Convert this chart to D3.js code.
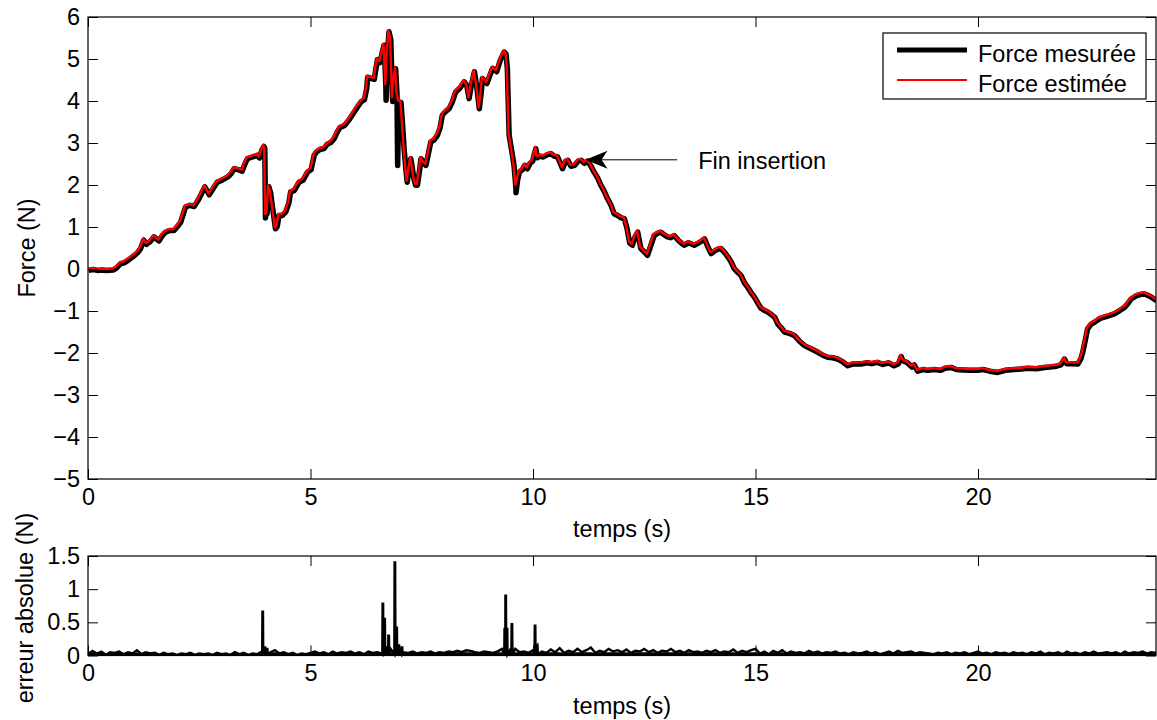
<!DOCTYPE html>
<html><head><meta charset="utf-8">
<script src="https://cdn.jsdelivr.net/npm/d3@7"></script>
<style>
body{margin:0;background:#fff}
text{font-family:"Liberation Sans",Arial,Helvetica,sans-serif;fill:#000}
</style>
</head><body><svg id="c" width="1157" height="720"></svg>
<script>
// ---------- data ----------
const tickX = [0, 5, 10, 15, 20];
const tickYForce = [-5, -4, -3, -2, -1, 0, 1, 2, 3, 4, 5, 6];
const tickYErr = [0, 0.5, 1, 1.5];
const seriesNames = ["Force mesurée", "Force estimée"];
const xLabel = "temps (s)";
const yLabelForce = "Force (N)";
const yLabelErr = "erreur absolue (N)";
const annotationText = "Fin insertion";
const annotationTip = [11.18, 2.6];
const annotationTail = [13.24, 2.6];

const forceTime = [
 0.00,0.10,0.20,0.30,0.40,0.55,0.62,0.72,0.80,0.90,1.00,1.10,1.17,1.24,1.30,1.38,1.47,1.58,1.65,1.73,1.82,1.92,
 2.00,2.07,2.13,2.18,2.28,2.37,2.45,2.52,2.61,2.66,2.71,2.80,2.89,3.00,3.12,3.20,3.27,3.36,3.45,3.52,3.57,3.68,
 3.79,3.84,3.90,3.94,3.96,3.98,4.01,4.05,4.09,4.12,4.16,4.20,4.24,4.28,4.35,4.43,4.50,4.54,4.62,4.73,4.82,4.92,
 5.00,5.07,5.12,5.20,5.29,5.36,5.45,5.52,5.59,5.65,5.75,5.85,5.97,6.05,6.12,6.20,6.25,6.27,6.33,6.42,6.49,6.55,
 6.60,6.64,6.66,6.68,6.71,6.75,6.79,6.81,6.83,6.86,6.90,6.93,6.97,7.02,7.06,7.09,7.13,7.16,7.20,7.24,7.28,7.31,
 7.35,7.39,7.44,7.47,7.53,7.58,7.64,7.69,7.76,7.84,7.90,7.95,8.02,8.10,8.17,8.25,8.35,8.44,8.50,8.55,8.60,8.67,
 8.72,8.78,8.82,8.85,8.95,9.02,9.08,9.17,9.25,9.34,9.38,9.41,9.45,9.50,9.53,9.56,9.60,9.64,9.68,9.75,9.80,9.86,
 9.92,9.98,10.01,10.05,10.08,10.15,10.22,10.30,10.39,10.46,10.54,10.60,10.65,10.72,10.77,10.84,10.92,11.00,
 11.07,11.14,11.21,11.28,11.36,11.44,11.51,11.58,11.66,11.74,11.81,11.90,11.97,12.04,12.10,12.16,12.22,12.28,
 12.34,12.41,12.48,12.56,12.62,12.71,12.78,12.86,12.93,13.01,13.08,13.16,13.25,13.32,13.39,13.48,13.55,13.61,
 13.70,13.78,13.84,13.92,13.99,14.05,14.13,14.21,14.30,14.38,14.44,14.51,14.58,14.66,14.74,14.81,14.90,14.97,
 15.04,15.11,15.18,15.26,15.34,15.42,15.49,15.56,15.64,15.75,15.86,15.97,16.09,16.20,16.30,16.39,16.50,16.61,
 16.72,16.83,16.95,17.06,17.20,17.35,17.50,17.60,17.73,17.85,17.98,18.10,18.20,18.26,18.30,18.40,18.50,18.55,
 18.63,18.75,18.85,19.00,19.15,19.25,19.38,19.50,19.65,19.80,19.98,20.10,20.25,20.43,20.60,20.80,20.96,21.10,
 21.30,21.48,21.60,21.75,21.85,21.93,21.98,22.10,22.23,22.30,22.34,22.40,22.45,22.53,22.61,22.72,22.83,22.95,
 23.06,23.18,23.28,23.36,23.43,23.55,23.65,23.73,23.82,23.90,24.00];

const forceEstimated = [
 0.00,0.02,0.00,0.01,0.00,0.01,0.05,0.16,0.18,0.25,0.33,0.42,0.52,0.72,0.62,0.68,0.80,0.70,0.82,0.91,0.95,0.95,
 1.05,1.15,1.35,1.51,1.55,1.52,1.65,1.79,1.99,1.90,1.80,1.95,2.10,2.15,2.22,2.30,2.42,2.40,2.36,2.55,2.66,2.70,
 2.74,2.68,2.88,2.95,2.90,1.31,1.35,1.99,1.85,1.60,1.30,0.99,1.05,1.31,1.31,1.39,1.60,1.87,1.90,2.10,2.15,2.34,
 2.40,2.74,2.82,2.88,2.90,3.00,3.05,3.14,3.30,3.40,3.45,3.58,3.77,3.90,4.01,4.07,4.33,4.60,4.58,4.55,5.02,4.95,
 5.20,5.36,4.90,4.40,5.10,5.68,5.50,4.80,4.09,4.50,4.80,4.20,4.01,4.00,3.40,2.90,2.40,2.10,2.40,2.66,2.40,2.18,
 2.03,2.03,2.40,2.66,2.55,2.50,2.80,3.06,3.10,3.22,3.40,3.70,3.78,3.85,4.00,4.25,4.35,4.49,4.40,4.09,4.40,4.73,
 4.40,3.85,4.20,4.57,4.45,4.65,4.81,4.73,5.00,5.20,5.15,4.81,3.22,2.90,2.70,2.50,2.00,2.15,2.34,2.40,2.50,2.42,
 2.55,2.60,2.74,2.90,2.68,2.72,2.70,2.75,2.78,2.72,2.70,2.55,2.42,2.60,2.62,2.48,2.50,2.60,
 2.62,2.55,2.60,2.50,2.34,2.20,2.03,1.90,1.71,1.55,1.35,1.30,1.25,1.23,1.00,0.65,0.60,0.80,
 0.91,0.52,0.45,0.36,0.55,0.83,0.88,0.91,0.85,0.80,0.78,0.83,0.72,0.65,0.60,0.66,0.63,0.60,
 0.65,0.70,0.75,0.55,0.40,0.45,0.50,0.52,0.42,0.30,0.20,0.04,-0.04,-0.12,-0.30,-0.40,-0.55,-0.65,
 -0.78,-0.90,-0.95,-0.99,-1.05,-1.12,-1.28,-1.36,-1.47,-1.50,-1.55,-1.68,-1.79,-1.85,-1.90,-1.95,-2.02,-2.07,
 -2.08,-2.11,-2.18,-2.27,-2.22,-2.23,-2.20,-2.22,-2.19,-2.24,-2.20,-2.27,-2.22,-2.05,-2.15,-2.20,-2.30,-2.25,
 -2.40,-2.36,-2.38,-2.36,-2.38,-2.33,-2.31,-2.36,-2.37,-2.38,-2.38,-2.36,-2.40,-2.43,-2.38,-2.36,-2.35,-2.33,
 -2.34,-2.31,-2.30,-2.28,-2.25,-2.11,-2.22,-2.22,-2.23,-2.10,-1.95,-1.65,-1.39,-1.28,-1.23,-1.15,-1.11,-1.07,
 -1.03,-0.95,-0.88,-0.78,-0.68,-0.60,-0.57,-0.56,-0.60,-0.65,-0.72];

// points where the measured force departs from the estimate
const measuredExtraTime  = [3.975, 6.685, 6.835, 6.945, 9.605];
const measuredExtraForce = [1.25, 4.05, 4.02, 2.50, 1.85];

// absolute error: background level every 0.1 s, then isolated peaks
const errStep = 0.1;
const errBaseline = [
 0.02,0.07,0.03,0.06,0.01,0.05,0.04,0.06,0.02,0.05,
 0.03,0.08,0.02,0.05,0.03,0.04,0.01,0.04,0.02,0.03,
 0.01,0.03,0.02,0.04,0.01,0.03,0.02,0.03,0.01,0.04,
 0.02,0.03,0.01,0.05,0.02,0.04,0.01,0.03,0.02,0.06,
 0.10,0.05,0.08,0.03,0.05,0.02,0.04,0.01,0.03,0.02,
 0.04,0.06,0.03,0.05,0.02,0.06,0.03,0.05,0.04,0.06,
 0.03,0.05,0.02,0.06,0.04,0.05,0.03,0.06,0.10,0.12,
 0.12,0.05,0.04,0.06,0.03,0.05,0.04,0.06,0.03,0.05,
 0.04,0.06,0.05,0.07,0.05,0.08,0.07,0.05,0.04,0.06,
 0.05,0.04,0.06,0.10,0.12,0.10,0.10,0.05,0.06,0.04,
 0.08,0.15,0.06,0.04,0.09,0.05,0.11,0.04,0.07,0.05,
 0.10,0.05,0.08,0.12,0.04,0.07,0.05,0.10,0.06,0.08,
 0.05,0.09,0.04,0.07,0.06,0.10,0.05,0.08,0.04,0.07,
 0.06,0.10,0.05,0.07,0.04,0.08,0.05,0.06,0.04,0.07,
 0.05,0.08,0.04,0.06,0.05,0.09,0.04,0.07,0.05,0.08,
 0.10,0.03,0.06,0.02,0.07,0.04,0.08,0.03,0.06,0.04,
 0.05,0.03,0.07,0.04,0.06,0.03,0.05,0.04,0.06,0.03,
 0.04,0.02,0.05,0.03,0.04,0.06,0.03,0.05,0.02,0.04,
 0.06,0.03,0.07,0.04,0.05,0.06,0.03,0.05,0.04,0.03,
 0.02,0.04,0.03,0.05,0.02,0.04,0.03,0.05,0.02,0.04,
 0.06,0.03,0.04,0.02,0.05,0.03,0.04,0.02,0.05,0.03,
 0.04,0.02,0.05,0.03,0.06,0.02,0.04,0.03,0.05,0.02,
 0.06,0.03,0.04,0.02,0.05,0.03,0.06,0.03,0.04,0.05,
 0.03,0.05,0.02,0.06,0.03,0.05,0.04,0.06,0.03,0.05,
 0.04];
const errPeakTime  = [3.92, 3.97, 4.02, 6.62, 6.66, 6.70, 6.75, 6.89, 6.93, 6.98, 7.05, 9.36, 9.38, 9.41, 9.52, 10.04, 10.09];
const errPeakValue = [0.66, 0.12, 0.10, 0.78, 0.55, 0.12, 0.30, 1.42, 0.42, 0.15, 0.12, 0.40, 0.90, 0.40, 0.47, 0.45, 0.14];

// ---------- drawing ----------
const svg = d3.select("#c");
const FS = 23.5;
const x = d3.scaleLinear().domain([0, 24]).range([88, 1156]);
const yF = d3.scaleLinear().domain([-5, 6]).range([479, 17]);
const yE = d3.scaleLinear().domain([0, 1.5]).range([655.5, 556]);
const fmt = d3.format("~g");

svg.append("rect").attr("width", 1157).attr("height", 720).attr("fill", "#fff");

function frame(ys, yTicks, top, bottom) {
  const g = svg.append("g");
  const ax = (axis, tx, ty) => {
    const a = g.append("g").attr("transform", `translate(${tx},${ty})`).call(axis);
    a.select(".domain").remove();
    a.selectAll("line").attr("stroke", "#000").attr("stroke-width", 1);
    a.selectAll("text").attr("font-size", FS).attr("font-family", null).attr("fill", "#000");
    return a;
  };
  ax(d3.axisBottom(x).tickValues(tickX).tickSize(-10).tickPadding(9).tickFormat(fmt), 0, bottom);
  ax(d3.axisTop(x).tickValues(tickX).tickSize(-10).tickFormat(""), 0, top);
  ax(d3.axisLeft(ys).tickValues(yTicks).tickSize(-10).tickPadding(8).tickFormat(fmt), 88, 0);
  ax(d3.axisRight(ys).tickValues(yTicks).tickSize(-10).tickFormat(""), 1156, 0);
  g.append("rect").attr("x", 88).attr("y", top).attr("width", 1156 - 88).attr("height", bottom - top)
    .attr("fill", "none").attr("stroke", "#000").attr("stroke-width", 1.2);
  return g;
}

// top panel data
const estimated = forceTime.map((t, i) => [t, forceEstimated[i]]);
const measured = estimated.concat(measuredExtraTime.map((t, i) => [t, measuredExtraForce[i]]))
  .sort((a, b) => a[0] - b[0]);
const lineF = d3.line().x(d => x(d[0])).y(d => yF(d[1]));

svg.append("defs").append("clipPath").attr("id", "clipTop")
  .append("rect").attr("x", 88).attr("y", 17).attr("width", 1068).attr("height", 462);

const pg = svg.append("g").attr("clip-path", "url(#clipTop)");
pg.append("path").datum(measured).attr("d", lineF).attr("fill", "none")
  .attr("stroke", "#000").attr("stroke-width", 5.5).attr("stroke-linejoin", "round")
  .attr("transform", "translate(0.6,1.4)");
pg.append("path").datum(estimated).attr("d", lineF).attr("fill", "none")
  .attr("stroke", "#ff0000").attr("stroke-width", 2.4).attr("stroke-linejoin", "round");

frame(yF, tickYForce, 17, 479);

// bottom panel data
let errPts = errBaseline.map((v, i) => [i * errStep, v]);
errPeakTime.forEach((t, i) => {
  const v = errPeakValue[i];
  errPts.push([t - 0.006, 0.02], [t, v], [t + 0.012, v], [t + 0.018, 0.02]);
});
errPts.sort((a, b) => a[0] - b[0]);
const lineE = d3.line().x(d => x(d[0])).y(d => yE(d[1]));
const areaE = d3.area().x(d => x(d[0])).y0(yE(0)).y1(d => yE(Math.min(d[1], 0.05)));
svg.append("path").datum(errBaseline.map((v, i) => [i * errStep, v])).attr("d", areaE).attr("fill", "#000");
svg.append("path").datum(errPts).attr("d", lineE).attr("fill", "none")
  .attr("stroke", "#000").attr("stroke-width", 2.4).attr("stroke-linejoin", "miter");

frame(yE, tickYErr, 556, 655.5);

// axis labels
svg.append("text").attr("x", 622).attr("y", 537).attr("text-anchor", "middle").attr("font-size", FS).text(xLabel);
svg.append("text").attr("x", 622).attr("y", 714).attr("text-anchor", "middle").attr("font-size", FS).text(xLabel);
svg.append("text").attr("transform", "translate(35,248) rotate(-90)").attr("text-anchor", "middle").attr("font-size", FS).text(yLabelForce);
svg.append("text").attr("transform", "translate(33,608) rotate(-90)").attr("text-anchor", "middle").attr("font-size", FS).text(yLabelErr);

// legend
const lg = svg.append("g");
lg.append("rect").attr("x", 883).attr("y", 33).attr("width", 263).attr("height", 66)
  .attr("fill", "#fff").attr("stroke", "#000").attr("stroke-width", 1.2);
const legendStyles = [{c: "#000", w: 5, y: 50}, {c: "#ff0000", w: 2.2, y: 80}];
seriesNames.forEach((n, i) => {
  const s = legendStyles[i];
  lg.append("line").attr("x1", 897).attr("x2", 967).attr("y1", s.y).attr("y2", s.y)
    .attr("stroke", s.c).attr("stroke-width", s.w);
  lg.append("text").attr("x", 978).attr("y", s.y + 12).attr("font-size", FS).text(n);
});

// annotation arrow
const tipX = x(annotationTip[0]), tipY = yF(annotationTip[1]);
const tailX = x(annotationTail[0]);
svg.append("line").attr("x1", tipX + 15).attr("x2", tailX).attr("y1", tipY).attr("y2", tipY)
  .attr("stroke", "#000").attr("stroke-width", 1);
svg.append("path")
  .attr("d", `M${tipX},${tipY} L${tipX + 22},${tipY - 9} L${tipX + 16},${tipY} L${tipX + 22},${tipY + 9} Z`)
  .attr("fill", "#000");
svg.append("text").attr("x", tailX + 21).attr("y", tipY + 9).attr("font-size", FS).text(annotationText);
</script>
</body></html>
